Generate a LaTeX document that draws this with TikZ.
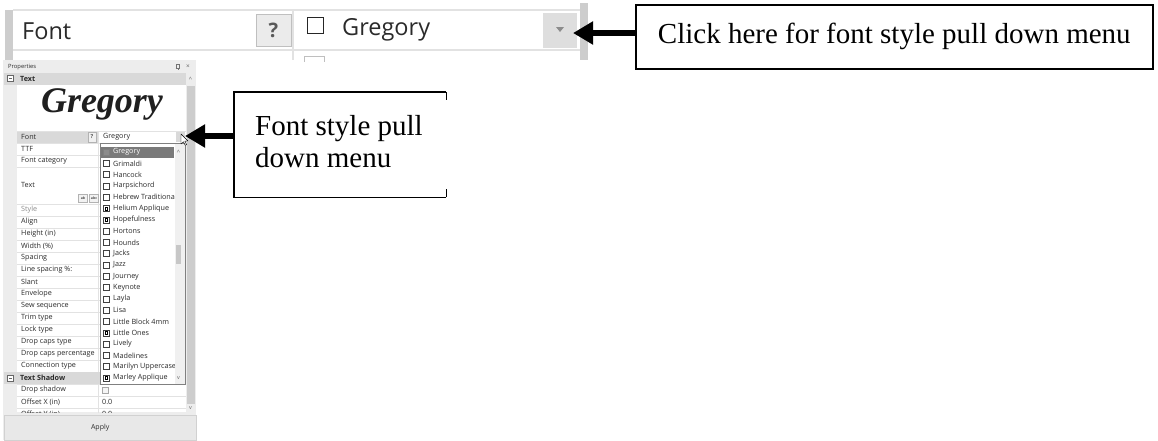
\documentclass[tikz,border=0pt]{standalone}
\usepackage{fontspec}
\setmainfont{Liberation Serif}
\newfontfamily\ui{Open Sans}
\usetikzlibrary{arrows.meta}
\definecolor{panelbg}{HTML}{EDEDED}
\definecolor{hdr}{HTML}{D9D9D9}
\definecolor{sep}{HTML}{E2E2E2}
\definecolor{uitext}{HTML}{2A2A2A}
\definecolor{barg}{HTML}{CDCDCD}
\definecolor{selg}{HTML}{7A7A7A}
\begin{document}
\begin{tikzpicture}[x=1pt,y=-1pt,
  lbl/.style={anchor=west, inner sep=0pt, font=\ui\fontsize{7.2}{8}\selectfont, text=uitext},
  itm/.style={anchor=west, inner sep=0pt, font=\ui\fontsize{7.2}{8}\selectfont, text=uitext},
  hdrlbl/.style={anchor=west, inner sep=0pt, font=\ui\bfseries\fontsize{7.2}{8}\selectfont, text=uitext},
  bigui/.style={anchor=west, inner sep=0pt, font=\ui\fontsize{23.5}{26}\selectfont, text=uitext},
  callout/.style={font=\fontsize{29}{33}\selectfont, text=black},
  bigarrow/.style={line width=5.5pt, -{Triangle[length=20pt,width=22pt]}},
  tinybox/.style={draw=black!75, line width=0.5pt, fill=white, minimum width=6pt, minimum height=6pt, inner sep=0pt}
]
\useasboundingbox (0,0) rectangle (1158,440);

% ---------------- top enlarged strip ----------------
\fill[barg] (5,10) rectangle (13,60);
\fill[barg] (580,3) rectangle (588,60);
\draw[sep, line width=1.5pt] (13,10) -- (580,10);
\draw[sep, line width=1.5pt] (13,50) -- (580,50);
\draw[sep, line width=1.5pt] (293,10) -- (293,60);
\node[bigui] (fontlbl) at (22,31) {Font};
\node[draw=black!25, fill=black!8, minimum width=35pt, minimum height=32pt, inner sep=0pt,
      font=\ui\bfseries\fontsize{20}{22}\selectfont, text=black!65] (qbtn) at (273.5,30) {?};
\node[draw=black!85, line width=1.2pt, minimum width=16pt, minimum height=16pt, inner sep=0pt] (chk) at (315.5,25.5) {};
\node[bigui] (greg) at (342,30) {Gregory};
\node[fill=black!13, minimum width=34pt, minimum height=35pt, inner sep=0pt] (ddbig) at (560,30.5) {};
\fill[black!45] (556,27) -- (564,27) -- (560,32) -- cycle;
\draw[black!25, line width=1pt] (304,62) -- (304,56) -- (324,56) -- (324,62);

% callout 1
\node[draw, line width=1.6pt, minimum width=517pt, minimum height=64pt, inner sep=0pt, anchor=north west, callout]
  (clickbox) at (635,4) {Click here for font style pull down menu};
\coordinate (tip1) at (573,33);
\draw[bigarrow] (clickbox.west |- tip1) -- (tip1);

% ---------------- properties panel ----------------
\fill[panelbg] (3,60) rectangle (196,440);
\node[anchor=west, inner sep=0pt, font=\ui\fontsize{5.8}{6}\selectfont, text=uitext] (ptitle) at (8,67) {Properties};
\draw[black!55, line width=0.5pt] (176.5,64.5) rectangle (179,68) (175.5,68) -- (180,68) (177.75,68) -- (177.75,70);
\node[anchor=center, inner sep=0pt, font=\ui\fontsize{6.5}{6}\selectfont, text=black!60] (pclose) at (188,66.5) {×};

% Text header
\fill[hdr] (4,73) rectangle (186,85);
\draw[black!60, line width=0.4pt, fill=white] (7.5,75.5) rectangle (13.5,81.5);
\draw[black!60, line width=0.5pt] (9,78.5) -- (12,78.5);
\node[hdrlbl] (htext) at (20,79) {Text};

% preview
\fill[white] (17,85) rectangle (186,129);
\node[font=\bfseries\itshape\fontsize{36}{40}\selectfont, text=black!88, inner sep=0pt] (preview) at (102,104) {Gregory};

% property grid
\begin{scope}
\clip (4,129) rectangle (186,412);
\fill[white] (17,129) rectangle (186,412);
\fill[hdr] (17,131) rectangle (98,143);
\foreach \yy in {131,143,155,167,204,216,228,240,252,264,276,288,300,312,324,336,348,360,372,384,396,408}
  \draw[sep, line width=0.6pt] (17,\yy) -- (186,\yy);
\draw[sep, line width=0.6pt] (98,131) -- (98,372);
\draw[sep, line width=0.6pt] (98,384) -- (98,420);
\fill[hdr] (4,372) rectangle (186,384);
\draw[black!60, line width=0.4pt, fill=white] (7.5,375) rectangle (13.5,381);
\draw[black!60, line width=0.5pt] (9,378) -- (12,378);
\node[hdrlbl] (hshadow) at (20,378) {Text Shadow};
\node[lbl] (lfont) at (21,137) {Font};
\foreach \yy/\lab in {149/TTF, 161/Font category, 185/Text, 222/Align, 234/Height (in), 246/Width (\%),
   258/Spacing, 270/Line spacing \%:, 282/Slant, 294/Envelope, 306/Sew sequence, 318/Trim type,
   330/Lock type, 342/Drop caps type, 354/Drop caps percentage, 366/Connection type,
   390/Drop shadow, 402/Offset X (in), 414/Offset Y (in)}
  \node[lbl] (l\yy) at (21,\yy) {\lab};
\node[lbl, text=black!45] (lstyle) at (21,210) {Style};
\node[draw=black!30, fill=black!6, minimum width=8pt, minimum height=10pt, inner sep=0pt,
      font=\ui\bfseries\fontsize{5.5}{6}\selectfont, text=black!70] (qsmall) at (92,137) {?};
\node[draw=black!30, fill=black!5, minimum width=9pt, minimum height=8pt, inner sep=0pt,
      font=\ui\bfseries\fontsize{3.5}{4}\selectfont, text=black!70] (ic1) at (83,198) {ab};
\node[draw=black!30, fill=black!5, minimum width=9pt, minimum height=8pt, inner sep=0pt,
      font=\ui\bfseries\fontsize{3.5}{4}\selectfont, text=black!70] (ic2) at (94,198) {abc};
\node[itm] (vfont) at (103,137) {Gregory};
\node[draw=black!35, fill=black!4, minimum width=6pt, minimum height=6pt, inner sep=0pt] (dshadow) at (105,390) {};
\node[itm] (vox) at (102,402) {0.0};
\node[itm] (voy) at (102,414) {0.0};
\end{scope}

% panel scrollbar
\fill[barg] (186.5,86) rectangle (194.5,404);
\node[inner sep=0pt, font=\ui\fontsize{6}{6}\selectfont, text=black!60] (pup) at (190.5,79) {\^{}};
\node[inner sep=0pt, font=\ui\fontsize{5.5}{6}\selectfont, text=black!60] (pdown) at (190.5,408) {v};

% small dropdown button on Font row
\node[fill=black!15, minimum width=9pt, minimum height=10pt, inner sep=0pt] (ddsmall) at (180.5,137) {};

% dropdown list
\node[draw=black!50, line width=0.7pt, fill=white, minimum width=85pt, minimum height=241pt, inner sep=0pt, anchor=north west] (ddlist) at (100,143) {};
\fill[black!6] (175,144) rectangle (184.5,383.5);
\fill[black!22] (175.5,245) rectangle (181,264);
\node[inner sep=0pt, font=\ui\fontsize{6}{6}\selectfont, text=black!60] (lup) at (178.5,152) {\^{}};
\node[inner sep=0pt, font=\ui\fontsize{5.5}{6}\selectfont, text=black!60] (ldown) at (178.5,378) {v};
\fill[selg] (101,146.5) rectangle (174,157.5);
\begin{scope}
\clip (100,143) rectangle (174,384);
\node[tinybox, draw=black!50, fill=black!45] (cb0) at (106,152) {};
\node[itm, text=white] (it0) at (113,152) {Gregory};
\foreach \i/\nm/\ic in {1/Grimaldi/0, 2/Hancock/0, 3/Harpsichord/0, 4/Hebrew Traditional/0,
   5/Helium Applique/1, 6/Hopefulness/1, 7/Hortons/0, 8/Hounds/0, 9/Jacks/0, 10/Jazz/0,
   11/Journey/0, 12/Keynote/0, 13/Layla/0, 14/Lisa/0, 15/Little Block 4mm/0, 16/Little Ones/1,
   17/Lively/0, 18/Madelines/0, 19/Marilyn Uppercase/0, 20/Marley Applique/1}{
  \pgfmathsetmacro{\yy}{152+11.3*\i}
  \node[tinybox] (cb\i) at (106,\yy) {};
  \ifnum\ic=1
    \draw[black, line width=0.7pt] (105,\yy-1.6) rectangle (107,\yy+1.6);
  \fi
  \node[itm] (it\i) at (113,\yy) {\nm};
}
\end{scope}

% mouse cursor
\draw[black, fill=white, line width=0.4pt, line join=round]
  (181,134) -- (181,144) -- (183.4,141.7) -- (185.2,145.3) -- (186.6,144.6) -- (184.8,141.1) -- (188,141) -- cycle;

% Apply button
\node[draw=black!18, fill=black!9, minimum width=192pt, minimum height=25pt, inner sep=0pt, anchor=north west,
      font=\ui\fontsize{7}{8}\selectfont, text=uitext] (apply) at (4,415) {Apply};

% callout 2
\node[minimum width=212pt, minimum height=105pt, inner sep=0pt, anchor=north west] (fsbox) at (234,92) {};
\draw[line width=1.6pt] (fsbox.north east) -- (fsbox.north west) -- (fsbox.south west) -- (fsbox.south east);
\draw[line width=1.6pt] (fsbox.north east) -- ++(0,8);
\draw[line width=1.6pt] (fsbox.south east) -- ++(0,-8);
\node[anchor=north west, align=left, inner sep=0pt, font=\fontsize{29}{32}\selectfont] (fstext) at (255,115) {Font style pull\\down menu};
\coordinate (tip2) at (185,136);
\draw[bigarrow] (fsbox.west |- tip2) -- (tip2);
\end{tikzpicture}
\end{document}
